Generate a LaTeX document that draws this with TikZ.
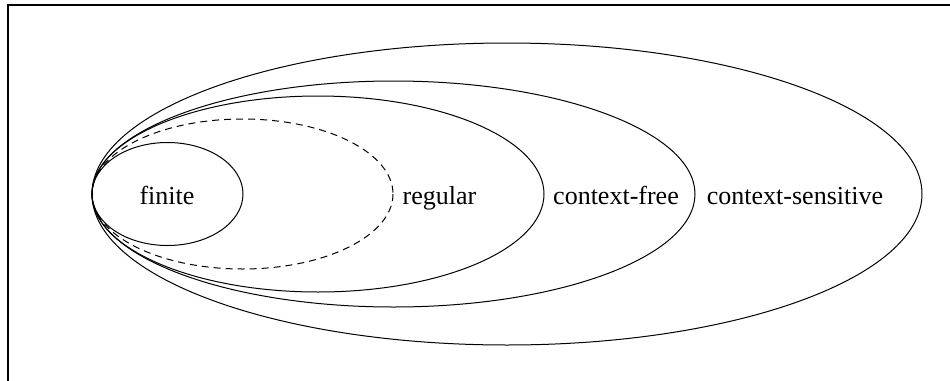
\documentclass[tikz,border=0pt]{standalone}
\usepackage{fontspec}
\setmainfont{Liberation Serif}
\begin{document}
\begin{tikzpicture}[
	x = 0.5pt, y = -0.5pt,
	frame/.style={line width=0.6pt},
	family/.style={line width=0.5pt},
	guess/.style={family, dash pattern=on 3.5pt off 2.5pt},
	classname/.style={anchor=base, inner sep=0pt, font=\fontsize{13}{15}\selectfont},
	]
	\useasboundingbox (0,0) rectangle (950,381);
	\draw[frame] (8,381) -- (8,5) -- (950,5);
	% nested classes, all touching at the left
	\draw[family] (167.5,194) ellipse [x radius=75.5, y radius=51.5];
	\draw[guess] (242.5,194) ellipse [x radius=150.5, y radius=75];
	\draw[family] (318,194) ellipse [x radius=226, y radius=98];
	\draw[family] (393.5,194) ellipse [x radius=301.5, y radius=113];
	\draw[family] (507,194) ellipse [x radius=415, y radius=151];
	\node (fin) [classname] at (167,204) {finite};
	\node (reg) [classname] at (439.5,204) {regular};
	\node (cf) [classname] at (616,204) {context-free};
	\node (cs) [classname] at (795,204) {context-sensitive};
\end{tikzpicture}
\end{document}
